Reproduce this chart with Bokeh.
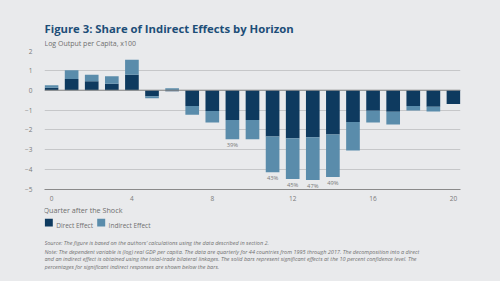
import numpy as np
from bokeh.plotting import figure
from bokeh.layouts import column
from bokeh.models import ColumnDataSource, Span, FixedTicker, Range1d
from bokeh.core.properties import value
from bokeh.embed import file_html
from bokeh.resources import INLINE

# ---- data ----
quarters = list(range(21))
direct = [0.13, 0.57, 0.45, 0.33, 0.78, -0.30, -0.05, -0.80, -1.05, -1.50, -1.50,
          -2.33, -2.42, -2.37, -2.23, -1.60, -1.03, -1.08, -0.80, -0.83, -0.70]
indirect = [0.12, 0.43, 0.33, 0.37, 0.75, -0.10, 0.10, -0.43, -0.57, -0.97, -0.97,
            -1.80, -2.05, -2.15, -2.14, -1.43, -0.59, -0.65, -0.22, -0.24, 0.0]
pct_labels = ["", "", "", "", "", "", "", "", "", "39%", "", "43%", "45%", "47%", "49%",
              "", "", "", "", "", ""]
x_ticks = [0, 4, 8, 12, 16, 20]
y_ticks = [-5, -4, -3, -2, -1, 0, 1, 2]

title = "Figure 3: Share of Indirect Effects by Horizon"
subtitle = "Log Output per Capita, x100"
x_title = "Quarter after the Shock"
legend_names = ["Direct Effect", "Indirect Effect"]
notes = [
    "Source: The figure is based on the authors\u2019 calculations using the data described in section 2.",
    "Note: The dependent variable is (log) real GDP per capita. The data are quarterly for 44 countries from 1995 through 2017. The decomposition into a direct",
    "and an indirect effect is obtained using the total-trade bilateral linkages. The solid bars represent significant effects at the 10 percent confidence level. The",
    "percentages for significant indirect responses are shown below the bars.",
]

DARK = "#0e3a5f"
LIGHT = "#5a8cab"
BG = "#e9eaec"
GRAY = "#7a7a7a"
TXT = "#6f6f6f"
FONT = "Open Sans"
LEFT, RIGHT = 44, 40


def text_fig(h):
    f = figure(width=500, height=h, output_backend="svg", toolbar_location=None,
               x_range=Range1d(LEFT, 500 - RIGHT), y_range=Range1d(h, 0),
               x_axis_type=None, y_axis_type=None,
               min_border_left=LEFT, min_border_right=RIGHT,
               min_border_top=0, min_border_bottom=0)
    f.background_fill_color = BG
    f.border_fill_color = BG
    f.outline_line_color = None
    f.grid.visible = False
    return f


def put(f, txt, x, y, size, color, style="normal"):
    f.text(x=[x], y=[y], text=[txt], text_font=value(FONT), text_font_size=size,
           text_color=color, text_font_style=style, text_baseline="alphabetic",
           text_align="left")


# ---- header ----
top = text_fig(48)
put(top, title, 44, 28, "11.3px", "#1d4e78", "bold")
put(top, subtitle, 44, 42.5, "7px", TXT)

# ---- main chart ----
d = np.array(direct)
ind = np.array(indirect)
same = np.sign(d) == np.sign(ind)
ind_bottom = np.where(same, d, 0.0)
ind_top = ind_bottom + ind
total = np.where(same, d + ind, d)

src_d = ColumnDataSource(dict(x=quarters, top=direct, bottom=[0.0] * 21))
src_i = ColumnDataSource(dict(x=quarters, top=ind_top, bottom=ind_bottom))
src_l = ColumnDataSource(dict(x=quarters, y=total - 0.1, t=pct_labels))

p = figure(width=500, height=155, output_backend="svg", toolbar_location=None,
           x_range=Range1d(-0.35, 20.35), y_range=Range1d(-5, 2),
           min_border_left=LEFT, min_border_right=RIGHT, min_border_top=2,
           min_border_bottom=13)
p.background_fill_color = BG
p.border_fill_color = BG
p.outline_line_color = None

p.vbar(x="x", top="top", bottom="bottom", width=0.68, source=src_d, color=DARK, line_color=None)
p.vbar(x="x", top="top", bottom="bottom", width=0.68, source=src_i, color=LIGHT, line_color=None)
p.text(x="x", y="y", text="t", source=src_l, text_align="center", text_baseline="top",
       text_font=value(FONT), text_font_size="5.8px", text_color=GRAY)

p.add_layout(Span(location=0, dimension="width", line_color="#8a8a8a", line_width=1))

p.xgrid.grid_line_color = None
p.ygrid.grid_line_color = "#c6c7c9"
p.ygrid.ticker = FixedTicker(ticks=y_ticks)

p.xaxis.ticker = FixedTicker(ticks=x_ticks)
p.yaxis.ticker = FixedTicker(ticks=y_ticks)
for ax in (p.xaxis, p.yaxis):
    ax.major_tick_line_color = None
    ax.minor_tick_line_color = None
    ax.major_label_text_font = FONT
    ax.major_label_text_font_size = "6.5px"
    ax.major_label_text_color = GRAY
p.xaxis.axis_line_color = "#8a8a8a"
p.xaxis.major_label_standoff = 0
p.yaxis.axis_line_color = None
p.yaxis.major_label_standoff = 6

# ---- footer ----
bot = text_fig(78)
put(bot, x_title, 43, 6.3, "7.2px", TXT)
for i, (name, col) in enumerate(zip(legend_names, [DARK, LIGHT])):
    x0 = 44.3 + i * 52.4
    bot.quad(left=[x0], right=[x0 + 8], top=[15.3], bottom=[23], color=col, line_color=None)
    put(bot, name, x0 + 11.4, 21.6, "6.5px", TXT)

for i, line in enumerate(notes):
    put(bot, line, 44, [39.6, 48.3, 55.8, 63.1][i], "5.5px", TXT, "italic")

layout = column(top, p, bot, spacing=0)
layout.styles = {"background-color": BG}
open("out.html", "w").write(file_html(layout, INLINE))
